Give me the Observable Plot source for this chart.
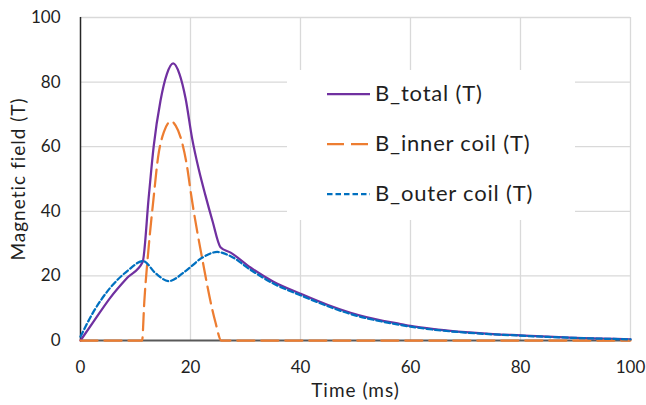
<!DOCTYPE html>
<html>
<head>
<meta charset="utf-8">
<script src="https://cdn.jsdelivr.net/npm/d3@7"></script>
<script src="https://cdn.jsdelivr.net/npm/@observablehq/plot@0.6"></script>
<style>
  html, body { margin: 0; padding: 0; background: #fff; }
  #wrap { position: relative; width: 646px; height: 405px; font-family: Lato, "Liberation Sans", sans-serif; }
  #legend { position: absolute; left: 287px; top: 70px; width: 288px; height: 150px; background: #fff; }
  .item { position: absolute; left: 0; height: 30px; width: 288px; }
  .item svg { position: absolute; left: 40px; top: 14px; }
  .item span { position: absolute; left: 88px; top: 0; font-size: 22px; letter-spacing: 0.8px; line-height: 30px; color: #1f1f1f; white-space: nowrap; }
</style>
</head>
<body>
<div id="wrap"></div>
<script>
// Series names
const seriesNames = ["B_total (T)", "B_inner coil (T)", "B_outer coil (T)"];

// B_total
const totalT = [0, 2.4, 5.4, 8.5, 11.3, 12.4, 13.3, 14.55, 15.7, 16.85, 18.0, 19.1, 20.3, 21.5, 22.7, 24.0, 25.45, 27.3, 30.9, 35, 40, 45, 49.1, 55, 58.2, 60, 65, 70, 75, 80, 85, 90, 95, 100];
const totalB = [0, 5.9, 13.2, 19.4, 24.3, 44.3, 60, 74.3, 82.5, 85.8, 82.5, 75, 62.5, 53, 45, 37, 28.9, 27.2, 22.6, 18.3, 14.5, 11.0, 8.6, 6.1, 5.1, 4.5, 3.4, 2.6, 2.0, 1.6, 1.2, 0.85, 0.6, 0.35];

// B_inner coil
const innerT = [0, 11.2, 11.6, 12.4, 13.3, 14.1, 15.15, 16.5, 17.3, 18.2, 19.4, 20.1, 22.1, 24.5, 25.6, 100];
const innerB = [0, 0, 12, 29, 44.3, 56.7, 64.5, 67.9, 66.5, 62.9, 53.6, 45.3, 25.6, 5.9, 0, 0];

// B_outer coil
const outerT = [0, 2.4, 5.4, 8.5, 11.4, 13.6, 16.05, 19.1, 22.1, 24.85, 27.3, 30.9, 35, 40, 45, 49.1, 55, 58.2, 60, 65, 70, 75, 80, 85, 90, 95, 100];
const outerB = [1.2, 9.0, 16.3, 21.5, 24.6, 20.9, 18.4, 21.5, 25.6, 27.4, 26.1, 21.9, 17.7, 14.0, 10.6, 8.2, 5.8, 4.8, 4.3, 3.2, 2.45, 1.9, 1.5, 1.1, 0.8, 0.55, 0.35];

// Axis ticks
const xTicks = [0, 20, 40, 60, 80, 100];
const yTicks = [0, 20, 40, 60, 80, 100];

const colors = ["#7030A0", "#ED7D31", "#0070C0"];
const dashes = [null, "17,7", "5.5,3"];

const toRows = (ts, bs) => ts.map((t, i) => ({t, b: bs[i]}));
const total = toRows(totalT, totalB);
const inner = toRows(innerT, innerB);
const outer = toRows(outerT, outerB);

const chart = Plot.plot({
  width: 646,
  height: 405,
  marginLeft: 80,
  marginRight: 16,
  marginTop: 17,
  marginBottom: 65,
  x: {domain: [0, 100]},
  y: {domain: [0, 100]},
  style: {fontFamily: "Lato, 'Liberation Sans', sans-serif", fontSize: "17px", color: "#1f1f1f", background: "#fff"},
  marks: [
    Plot.gridX(xTicks.filter(d => d > 0), {stroke: "#d9d9d9", strokeOpacity: 1, strokeWidth: 1.3}),
    Plot.gridY(yTicks.filter(d => d > 0), {stroke: "#d9d9d9", strokeOpacity: 1, strokeWidth: 1.3}),
    Plot.ruleX([0], {stroke: "#262626", strokeWidth: 1.5}),
    Plot.ruleY([0], {stroke: "#595959", strokeWidth: 2}),
    Plot.line(total, {x: "t", y: "b", stroke: colors[0], strokeWidth: 2.25, curve: "monotone-x"}),
    Plot.line(inner, {x: "t", y: "b", stroke: colors[1], strokeWidth: 2.25, strokeDasharray: dashes[1], curve: "monotone-x"}),
    Plot.line(outer, {x: "t", y: "b", stroke: colors[2], strokeWidth: 2.25, strokeDasharray: dashes[2], curve: "monotone-x"}),
    Plot.axisX(xTicks, {tickSize: 0, tickPadding: 20, label: null}),
    Plot.axisY(yTicks, {tickSize: 0, tickPadding: 20, label: null}),
    Plot.text(["Time (ms)"], {frameAnchor: "bottom", textAnchor: "middle", lineAnchor: "middle", dy: 50, fontSize: 19, fill: "#1f1f1f"}),
    Plot.text(["Magnetic field (T)"], {frameAnchor: "left", textAnchor: "middle", lineAnchor: "middle", dx: -62, rotate: -90, fontSize: 19, fill: "#1f1f1f"})
  ]
});

const wrap = document.getElementById("wrap");
wrap.appendChild(chart);
d3.select(chart).selectAll("text").filter(function() { return this.textContent === "Time (ms)" || this.textContent === "Magnetic field (T)"; }).style("letter-spacing", "1px");

// Legend overlay
const legend = document.createElement("div");
legend.id = "legend";
seriesNames.forEach((name, i) => {
  const item = document.createElement("div");
  item.className = "item";
  item.style.top = (8 + 50 * i) + "px";
  const dash = dashes[i] ? ` stroke-dasharray="${dashes[i]}"` : "";
  item.innerHTML = `<svg width="44" height="4"><line x1="0" y1="2" x2="43" y2="2" stroke="${colors[i]}" stroke-width="2.25"${dash}/></svg><span>${name}</span>`;
  legend.appendChild(item);
});
wrap.appendChild(legend);
</script>
</body>
</html>
